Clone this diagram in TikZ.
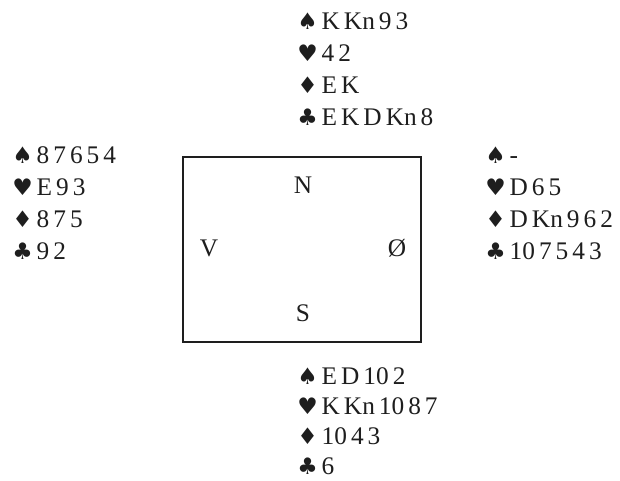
\documentclass[tikz,border=0pt]{standalone}
\usepackage{fontspec}
\setmainfont{Liberation Serif}
\newfontfamily\suitfont[Scale=0.9]{DejaVu Sans}
\usepackage{tikz}
\usepackage{xcolor}
\definecolor{ink}{RGB}{30, 30, 30}
\newcommand{\Sp}{{\suitfont ♠}}
\newcommand{\Hj}{{\suitfont ♥}}
\newcommand{\Ru}{{\suitfont ♦}}
\newcommand{\Kl}{{\suitfont ♣}}
\tikzset{
  hand/.style={anchor=base west, inner sep=0pt, text=ink, font={\fontsize{19}{22}\selectfont\spaceskip=3pt\relax}},
  seat/.style={inner sep=0pt, text=ink, font=\fontsize{19}{22}\selectfont},
}

\begin{document}
\begin{tikzpicture}[x=0.75pt, y=-0.75pt]
  \useasboundingbox (0,0) rectangle (620,481);
  % the table and the four seats
  \node[draw=ink, line width=0.8pt, inner sep=0pt, minimum width=178.5pt, minimum height=138.75pt] (table) at (302,249.5) {};
  \node[seat] (nord) at (303,185) {N};
  \node[seat] (vest) at (209,248) {V};
  \node[seat] (oest) at (397,248) {Ø};
  \node[seat] (syd) at (303,313) {S};
  % the hands
  \foreach \t [count=\i from 0] in {\Sp\ K Kn 9 3, \Hj\ 4 2, \Ru\ E K, \Kl\ E K D Kn 8}
    \node[hand] (nordhand\i) at (297,30+32*\i) {\t};
  \foreach \t [count=\i from 0] in {\Sp\ 8 7 6 5 4, \Hj\ E 9 3, \Ru\ 8 7 5, \Kl\ 9 2}
    \node[hand] (vesthand\i) at (12,163+32*\i) {\t};
  \foreach \t [count=\i from 0] in {\Sp\ -, \Hj\ D 6 5, \Ru\ D Kn 9 6 2, \Kl\ 10 7 5 4 3}
    \node[hand] (oesthand\i) at (485,163+32*\i) {\t};
  \foreach \t [count=\i from 0] in {\Sp\ E D 10 2, \Hj\ K Kn 10 8 7, \Ru\ 10 4 3, \Kl\ 6}
    \node[hand] (sydhand\i) at (297,384+30*\i) {\t};
\end{tikzpicture}
\end{document}
